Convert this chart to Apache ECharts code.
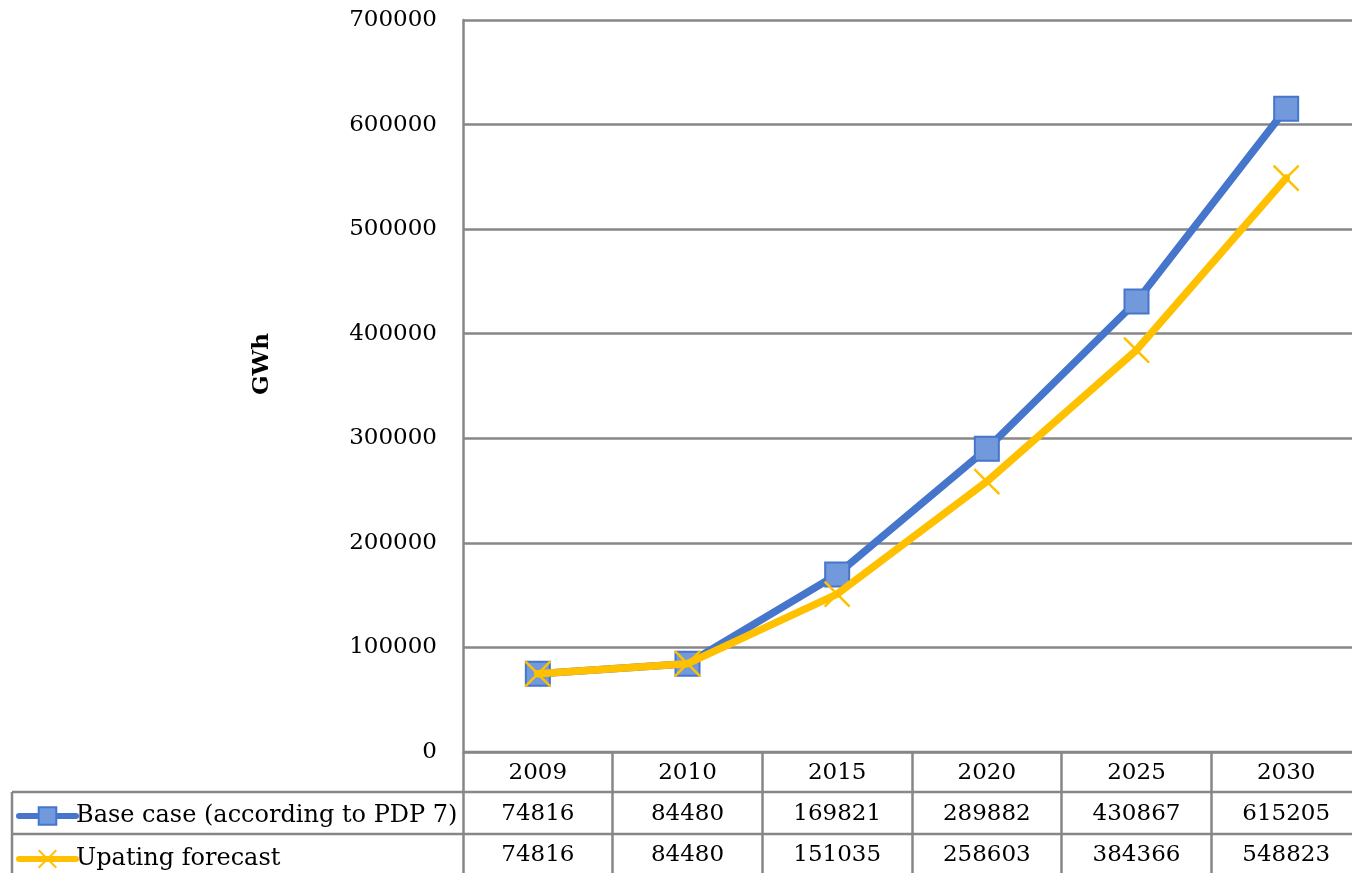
<!DOCTYPE html>
<html>
<head>
<meta charset="utf-8">
<script src="https://cdn.jsdelivr.net/npm/echarts@6/dist/echarts.min.js"></script>
<style>
  html, body { margin: 0; padding: 0; background: #fff; }
  #chart { width: 1352px; height: 873px; }
</style>
</head>
<body>
<div id="chart"></div>
<script>
// Electricity demand forecast (GWh)
const years = ['2009', '2010', '2015', '2020', '2025', '2030'];
const baseCase = [74816, 84480, 169821, 289882, 430867, 615205];
const updating = [74816, 84480, 151035, 258603, 384366, 548823];
const seriesNames = ['Base case (according to PDP 7)', 'Upating forecast'];
const yTicks = { min: 0, max: 700000, interval: 100000 };

const FONT = 'DejaVu Serif';
const FS = 23;
const GRID_COLOR = '#878787';
const BLUE = '#4676CC';
const BLUE_FILL = '#7299DB';
const GOLD = '#FFC000';

const chart = echarts.init(document.getElementById('chart'), null, { renderer: 'canvas' });

const grid = { left: 463, top: 20, right: -9, bottom: 121, outerBoundsMode: 'none', containLabel: false };
const rowH = 41;

const option = {
  animation: false,
  textStyle: { fontFamily: FONT },
  grid: grid,
  legend: {
    orient: 'vertical',
    left: 16,
    top: 804,
    padding: 0,
    itemWidth: 57,
    itemHeight: 22,
    itemGap: 19,
    selectedMode: false,
    lineStyle: { width: 6, cap: 'round' },
    textStyle: { fontFamily: FONT, fontSize: 24, color: '#000', padding: [0, 0, 0, -5] },
    data: seriesNames
  },
  xAxis: {
    type: 'category',
    data: years,
    boundaryGap: true,
    axisLine: { show: false },
    axisTick: {
      show: true,
      alignWithLabel: false,
      length: 124,
      inside: false,
      lineStyle: { color: GRID_COLOR, width: 2.5 }
    },
    axisLabel: {
      margin: 1,
      interval: 0,
      formatter: function (v, i) {
        return '{r|' + v + '}\n{r|' + baseCase[i] + '}\n{r|' + updating[i] + '}';
      },
      rich: {
        r: { fontFamily: FONT, fontSize: FS, color: '#000', lineHeight: rowH, height: rowH, align: 'center' }
      }
    },
    splitLine: { show: false }
  },
  yAxis: {
    type: 'value',
    min: yTicks.min,
    max: yTicks.max,
    interval: yTicks.interval,
    axisLine: { show: true, lineStyle: { color: GRID_COLOR, width: 2.5 } },
    axisTick: { show: false },
    axisLabel: {
      margin: 26,
      fontFamily: FONT,
      fontSize: FS,
      color: '#000',
      formatter: function (v) { return String(v); }
    },
    splitLine: { show: true, lineStyle: { color: GRID_COLOR, width: 2.5 } }
  },
  series: [
    {
      name: seriesNames[0],
      type: 'line',
      data: baseCase,
      symbol: 'rect',
      symbolSize: 24,
      lineStyle: { color: BLUE, width: 7.5, cap: 'round', join: 'round' },
      itemStyle: { color: BLUE_FILL, borderColor: BLUE, borderWidth: 2 },
      emphasis: { disabled: true },
      z: 2
    },
    {
      name: seriesNames[1],
      type: 'line',
      data: updating,
      symbol: 'path://M0,0L20,20M20,0L0,20',
      symbolSize: 25,
      lineStyle: { color: GOLD, width: 7.5, cap: 'round', join: 'round' },
      itemStyle: { color: GOLD, borderColor: GOLD, borderWidth: 2.5 },
      emphasis: { disabled: true },
      z: 3
    }
  ]
};

chart.setOption(option);

// Table frame below the plot, and the rotated unit label
function drawFrame() {
  const y0 = chart.convertToPixel({ yAxisIndex: 0 }, 0);
  const xLeft = chart.convertToPixel({ xAxisIndex: 0 }, years[0]) -
    (chart.convertToPixel({ xAxisIndex: 0 }, years[1]) - chart.convertToPixel({ xAxisIndex: 0 }, years[0])) / 2;
  const W = chart.getWidth();
  const H = chart.getHeight();
  const line = { stroke: GRID_COLOR, lineWidth: 2.5 };
  const tableLeft = 12;
  const rowLines = [y0 + 40, y0 + 82];
  const elements = [];
  rowLines.forEach(function (y) {
    elements.push({ type: 'line', shape: { x1: tableLeft, y1: y, x2: W, y2: y }, style: line, silent: true });
  });
  elements.push({ type: 'line', shape: { x1: tableLeft, y1: rowLines[0], x2: tableLeft, y2: H }, style: line, silent: true });
  elements.push({ type: 'line', shape: { x1: xLeft, y1: y0, x2: W, y2: y0 }, style: line, silent: true });
  elements.push({
    type: 'text',
    x: 262,
    y: 364,
    rotation: Math.PI / 2,
    style: {
      text: 'GWh',
      fontFamily: FONT,
      fontSize: FS,
      fontWeight: 'bold',
      fill: '#000',
      align: 'center',
      verticalAlign: 'middle'
    },
    silent: true
  });
  chart.setOption({ graphic: { elements: elements } });
}
drawFrame();
</script>
</body>
</html>
